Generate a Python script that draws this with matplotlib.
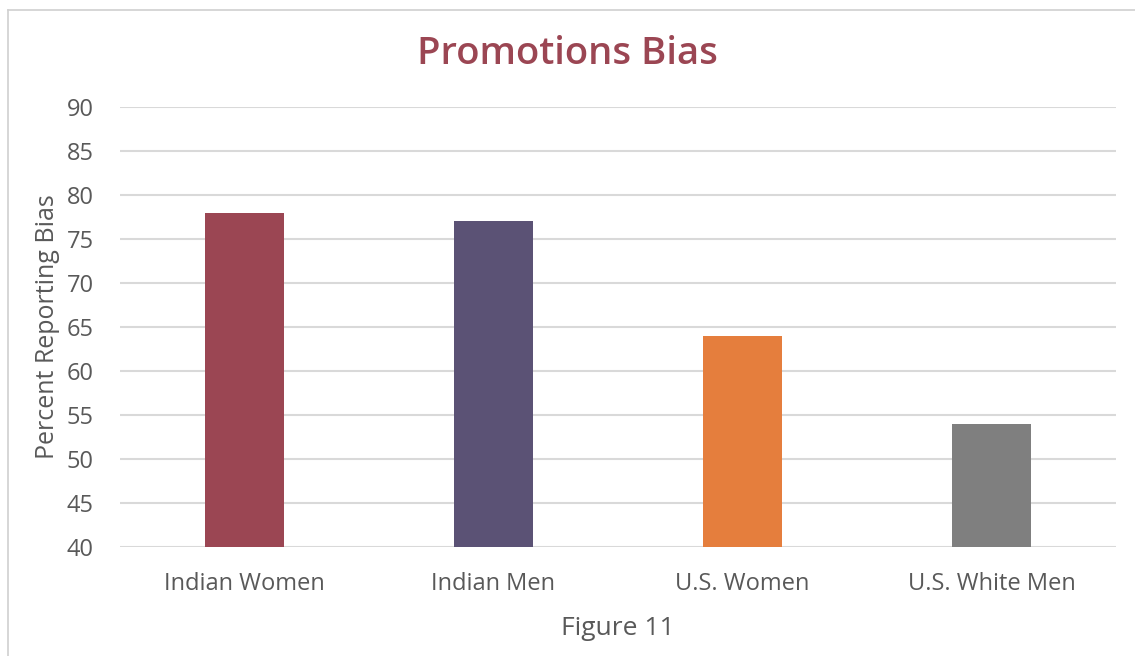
import matplotlib.pyplot as plt
from matplotlib.lines import Line2D

groups = ["Indian Women", "Indian Men", "U.S. Women", "U.S. White Men"]
pct_bias = [78, 77, 64, 54]
bar_colors = ["#9B4653", "#5B5275", "#E57E3D", "#7F7F7F"]
yticks = [40, 45, 50, 55, 60, 65, 70, 75, 80, 85, 90]

plt.rcParams['font.family'] = ['Open Sans', 'DejaVu Sans']

fig = plt.figure(figsize=(11.35, 6.56), dpi=100)
ax = fig.add_axes([0.1057, 0.1662, 0.8776, 0.6707])

x = range(len(groups))
ax.bar(x, pct_bias, width=0.32, color=bar_colors, zorder=3)

ax.set_xlim(-0.5, len(groups) - 0.5)
ax.set_ylim(40, 90)
ax.set_yticks(yticks)
ax.set_xticks(list(x))
ax.set_xticklabels(groups)
ax.grid(axis='y', color='#D9D9D9', linewidth=1.5, zorder=0)
for s in ax.spines.values():
    s.set_visible(False)
ax.tick_params(length=0, labelsize=17, labelcolor='#595959')
ax.tick_params(axis='y', pad=19)
ax.tick_params(axis='x', pad=18)

ax.set_ylabel("Percent Reporting Bias", fontsize=18, color='#595959', labelpad=5)
ax.set_xlabel("Figure 11", fontsize=19, color='#595959', labelpad=14.5)
fig.text(0.5, 0.918, "Promotions Bias", ha='center', va='center',
         fontsize=27.5, fontweight='semibold', color='#9B4653')

# chart frame (left and top edges visible)
fig.add_artist(Line2D([8/1135, 8/1135], [0, 1 - 10/656], color='#D0D0D0', lw=1.2))
fig.add_artist(Line2D([8/1135, 1], [1 - 10/656, 1 - 10/656], color='#D0D0D0', lw=1.2))

plt.savefig('out.png', dpi=100)
